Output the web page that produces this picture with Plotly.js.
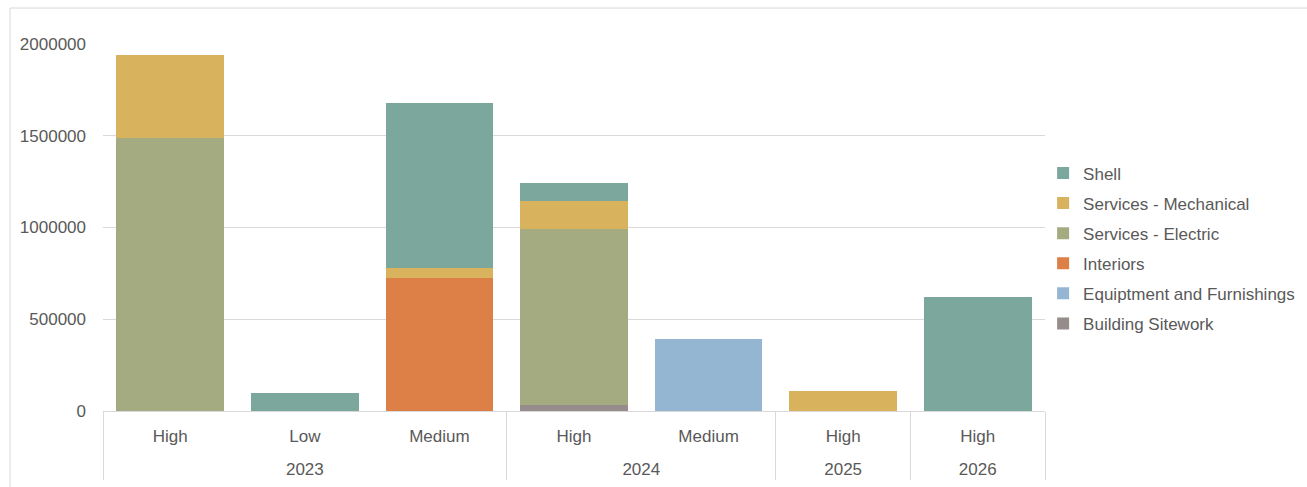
<!DOCTYPE html>
<html>
<head>
<meta charset="utf-8">
<script src="https://cdn.plot.ly/plotly-3.0.1.min.js"></script>
<style>
html,body{margin:0;padding:0;background:#fff;}
#chart{width:1307px;height:487px;}
</style>
</head>
<body>
<div id="chart"></div>
<script>
var years      = ["2023", "2023", "2023", "2024", "2024", "2025", "2026"];
var priorities = ["High", "Low", "Medium", "High", "Medium", "High", "High"];

var buildingSitework = [0, 0, 0, 35000, 0, 0, 0];
var equipment        = [0, 0, 0, 0, 394000, 0, 0];
var interiors        = [0, 0, 723000, 0, 0, 0, 0];
var servicesElectric = [1490000, 0, 0, 955000, 0, 0, 0];
var servicesMech     = [450000, 0, 58000, 154000, 0, 109000, 0];
var shell            = [0, 100000, 896000, 97000, 0, 0, 620000];

var yTickVals  = [0, 500000, 1000000, 1500000, 2000000];
var yTickText  = ["0", "500000", "1000000", "1500000", "2000000"];

var seriesNames  = ["Building Sitework", "Equiptment and Furnishings", "Interiors",
                    "Services - Electric", "Services - Mechanical", "Shell"];
var seriesValues = [buildingSitework, equipment, interiors, servicesElectric, servicesMech, shell];
var seriesColors = ["#968C8C", "#94B6D2", "#DD8047", "#A5AB81", "#D8B25C", "#7BA79D"];

// inner-level labels get an empty second line so the outer (year) row sits lower, as in the reference
var innerLabels = priorities.map(function(p){ return p + "<br>\u00a0"; });

var traces = seriesNames.map(function(name, i){
  return {
    type: "bar",
    name: name,
    x: [years, innerLabels],
    y: seriesValues[i],
    marker: {color: seriesColors[i], line: {width: 0}},
    legendgroup: "g" + i,
    legendrank: 1000 - i,
    hoverinfo: "skip"
  };
});

var layout = {
  width: 1307, height: 487,
  margin: {l: 103, r: 262, t: 44, b: 76, autoexpand: false},
  barmode: "stack",
  bargap: 0.2,
  paper_bgcolor: "#ffffff",
  plot_bgcolor: "#ffffff",
  font: {family: "Liberation Sans, Arial, sans-serif", size: 17, color: "#595959"},
  xaxis: {
    type: "multicategory",
    showgrid: false,
    showline: true,
    linecolor: "#d9d9d9",
    linewidth: 1,
    showdividers: true,
    dividercolor: "#d9d9d9",
    dividerwidth: 1,
    ticks: "",
    ticklabelstandoff: 10,
    tickfont: {size: 17, color: "#595959"}
  },
  yaxis: {
    range: [0, 2000000],
    tickvals: yTickVals,
    ticktext: yTickText,
    showgrid: true,
    gridcolor: "#d9d9d9",
    gridwidth: 1,
    zeroline: false,
    showline: false,
    ticklabelstandoff: 16,
    tickfont: {size: 17, color: "#595959"}
  },
  legend: {
    x: 0.998, xanchor: "left",
    y: 0.443, yanchor: "middle",
    traceorder: "grouped",
    tracegroupgap: 5,
    font: {size: 17, color: "#595959"},
    bgcolor: "rgba(0,0,0,0)"
  },
  shapes: [
    {type: "line", xref: "paper", yref: "paper", x0: -0.0987, x1: -0.0987, y0: -0.25, y1: 1.098,
     line: {color: "#d9d9d9", width: 1}},
    {type: "line", xref: "paper", yref: "paper", x0: -0.0987, x1: 1.4, y0: 1.098, y1: 1.098,
     line: {color: "#d9d9d9", width: 1}}
  ],
  hovermode: false,
  showlegend: true
};

Plotly.newPlot("chart", traces, layout, {displayModeBar: false, staticPlot: true});
</script>
</body>
</html>
